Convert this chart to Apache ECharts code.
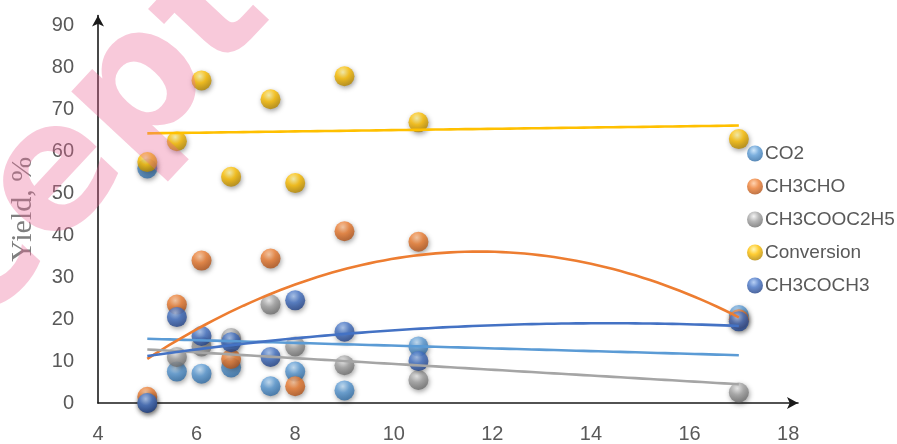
<!DOCTYPE html>
<html>
<head>
<meta charset="utf-8">
<script src="https://cdn.jsdelivr.net/npm/echarts@6/dist/echarts.min.js"></script>
<style>
  html, body { margin: 0; padding: 0; background: #fff; }
  #chart { width: 897px; height: 444px; }
</style>
</head>
<body>
<div id="chart"></div>
<script>
// Shared x positions of the measurements
const xValues = [5, 5.6, 6.1, 6.7, 7.5, 8, 9, 10.5, 17];

// Yields (%) per product and overall conversion
const co2        = [56, 7.5, 7, 8.5, 4, 7.5, 3, 13.5, 21];
const ch3cho     = [1.5, 23.5, 34, 10.5, 34.5, 4, 41, 38.5, 20];
const ch3cooc2h5 = [0, 11, 13.5, 15.5, 23.5, 13.5, 9, 5.5, 2.5];
const conversion = [57.5, 62.5, 77, 54, 72.5, 52.5, 78, 67, 63];
const ch3coch3   = [0, 20.5, 16, 14.5, 11, 24.5, 17, 10, 19.5];

const xTicks = [4, 6, 8, 10, 12, 14, 16, 18];
const yTicks = [0, 10, 20, 30, 40, 50, 60, 70, 80, 90];

// name, values, base colour, highlight, shade, trendline degree
const seriesDefs = [
  { name: 'CO2',        data: co2,        base: '#5B9BD5', hi: '#c4e2fb', lo: '#2e6aa3', degree: 1 },
  { name: 'CH3CHO',     data: ch3cho,     base: '#ED7D31', hi: '#ffc89e', lo: '#ad5017', degree: 2 },
  { name: 'CH3COOC2H5', data: ch3cooc2h5, base: '#A5A5A5', hi: '#f2f2f2', lo: '#6a6a6a', degree: 1 },
  { name: 'Conversion', data: conversion, base: '#FFC000', hi: '#fff6a8', lo: '#b08300', degree: 1 },
  { name: 'CH3COCH3',   data: ch3coch3,   base: '#4472C4', hi: '#a6c4f2', lo: '#1f3f84', degree: 2 }
];

// Least-squares polynomial fit (normal equations + Gaussian elimination)
function polyfit(xs, ys, deg) {
  const n = deg + 1;
  const A = [];
  for (let r = 0; r < n; r++) {
    const row = [];
    for (let c = 0; c < n; c++) {
      let s = 0;
      xs.forEach(x => { s += Math.pow(x, r + c); });
      row.push(s);
    }
    let t = 0;
    xs.forEach((x, i) => { t += ys[i] * Math.pow(x, r); });
    row.push(t);
    A.push(row);
  }
  for (let i = 0; i < n; i++) {
    let p = i;
    for (let k = i + 1; k < n; k++) if (Math.abs(A[k][i]) > Math.abs(A[p][i])) p = k;
    [A[i], A[p]] = [A[p], A[i]];
    for (let k = i + 1; k < n; k++) {
      const f = A[k][i] / A[i][i];
      for (let c = i; c <= n; c++) A[k][c] -= f * A[i][c];
    }
  }
  const coef = new Array(n).fill(0);
  for (let i = n - 1; i >= 0; i--) {
    let s = A[i][n];
    for (let c = i + 1; c < n; c++) s -= A[i][c] * coef[c];
    coef[i] = s / A[i][i];
  }
  return coef;
}

function trendPoints(xs, ys, deg) {
  const coef = polyfit(xs, ys, deg);
  const lo = Math.min(...xs), hi = Math.max(...xs);
  const pts = [];
  const steps = 80;
  for (let i = 0; i <= steps; i++) {
    const x = lo + (hi - lo) * i / steps;
    let y = 0;
    coef.forEach((c, k) => { y += c * Math.pow(x, k); });
    pts.push([x, y]);
  }
  return pts;
}

function sphere(d) {
  return {
    type: 'radial', x: 0.42, y: 0.3, r: 0.72,
    colorStops: [
      { offset: 0, color: d.hi },
      { offset: 0.45, color: d.base },
      { offset: 1, color: d.lo }
    ]
  };
}

const scatterSeries = seriesDefs.map((d, i) => ({
  name: d.name,
  type: 'scatter',
  symbol: 'circle',
  symbolSize: 20,
  z: 2 + i,
  data: xValues.map((x, k) => [x, d.data[k]]),
  itemStyle: {
    color: sphere(d),
    shadowColor: 'rgba(0,0,0,0.45)',
    shadowBlur: 5,
    shadowOffsetX: 1,
    shadowOffsetY: 2
  }
}));

const trendSeries = seriesDefs.map(d => ({
  name: d.name + ' trend',
  type: 'line',
  showSymbol: false,
  symbol: 'none',
  smooth: false,
  z: 10,
  silent: true,
  data: trendPoints(xValues, d.data, d.degree),
  lineStyle: { color: d.base, width: 2.6 }
}));

const chart = echarts.init(document.getElementById('chart'), null, { renderer: 'canvas' });

const labelFont = { color: '#595959', fontSize: 20, fontFamily: 'Liberation Sans' };

chart.setOption({
  animation: false,
  backgroundColor: '#ffffff',
  grid: { left: 95, right: 99, top: 15.5, bottom: 40, containLabel: false },
  legend: {
    orient: 'vertical',
    left: 742,
    top: 139,
    itemWidth: 16,
    itemHeight: 16,
    itemGap: 14,
    icon: 'circle',
    data: seriesDefs.map(d => ({ name: d.name, itemStyle: { color: sphere(d) } })),
    textStyle: { color: '#595959', fontSize: 19, fontFamily: 'Liberation Sans', padding: [0, 0, 0, -3] }
  },
  xAxis: {
    type: 'value',
    min: xTicks[0],
    max: 18.2,
    interval: 2,
    splitLine: { show: false },
    axisTick: { show: false },
    axisLabel: Object.assign({ margin: 21, showMaxLabel: false }, labelFont),
    axisLine: {
      onZero: false,
      symbol: ['none', 'arrow'],
      symbolSize: [9, 11],
      lineStyle: { color: '#1a1a1a', width: 1.6 }
    }
  },
  yAxis: {
    type: 'value',
    min: yTicks[0],
    max: 92.5,
    interval: 10,
    name: 'Yield, %',
    nameLocation: 'middle',
    nameRotate: 90,
    nameGap: 60,
    nameTextStyle: { color: '#7f7f7f', fontSize: 30, fontFamily: 'Liberation Serif' },
    splitLine: { show: false },
    axisTick: { show: false },
    axisLabel: Object.assign({ margin: 24, showMaxLabel: false }, labelFont),
    axisLine: {
      onZero: false,
      symbol: ['none', 'arrow'],
      symbolSize: [9, 11],
      lineStyle: { color: '#1a1a1a', width: 1.6 }
    }
  },
  graphic: [{
    type: 'text',
    x: -217,
    y: 474,
    rotation: 0.82,
    z: 100,
    silent: true,
    style: {
      text: 'Accepted Manuscript',
      font: 'bold 175px "DejaVu Sans"',
      fill: 'rgba(236,100,150,0.35)',
      textAlign: 'left',
      textVerticalAlign: 'middle'
    }
  }],
  series: scatterSeries.concat(trendSeries)
});
</script>
</body>
</html>
